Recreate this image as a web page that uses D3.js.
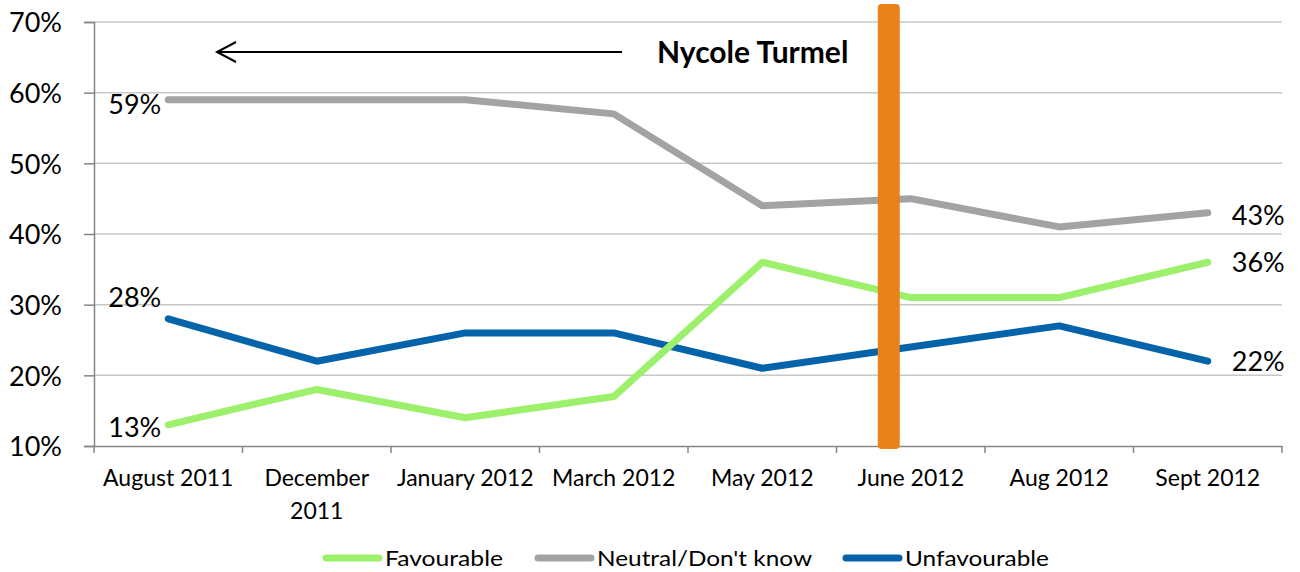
<!DOCTYPE html>
<html>
<head>
<meta charset="utf-8">
<script src="https://cdn.jsdelivr.net/npm/d3@7.8.5/dist/d3.min.js"></script>
<style>
  body { margin: 0; background: #fff; }
  svg { display: block; font-family: Lato, "Open Sans", sans-serif; }
</style>
</head>
<body>
<div id="chart"></div>
<script>
// Data
const categories = ["August 2011", "December 2011", "January 2012", "March 2012", "May 2012", "June 2012", "Aug 2012", "Sept 2012"];
const favourable = [13, 18, 14, 17, 36, 31, 31, 36];
const neutral = [59, 59, 59, 57, 44, 45, 41, 43];
const unfavourable = [28, 22, 26, 26, 21, 24, 27, 22];
const yTicks = [10, 20, 30, 40, 50, 60, 70];

const series = [
  { name: "Favourable", values: favourable, color: "#9cf06c" },
  { name: "Neutral/Don't know", values: neutral, color: "#a3a3a3" },
  { name: "Unfavourable", values: unfavourable, color: "#0563a9" }
];

const width = 1300, height = 572;
const margin = { top: 22, right: 18, bottom: 126, left: 94 };
const font = "Lato, 'Open Sans', sans-serif";

const svg = d3.select("#chart").append("svg")
  .attr("width", width)
  .attr("height", height);

const x = d3.scaleBand()
  .domain(categories)
  .range([margin.left, width - margin.right]);

const y = d3.scaleLinear()
  .domain([10, 70])
  .range([height - margin.bottom, margin.top]);

const cx = d => x(d) + x.bandwidth() / 2;

// Gridlines
svg.append("g")
  .selectAll("line")
  .data(yTicks.slice(1))
  .enter().append("line")
  .attr("x1", margin.left)
  .attr("x2", width - margin.right)
  .attr("y1", d => y(d))
  .attr("y2", d => y(d))
  .attr("stroke", "#c8c8c8")
  .attr("stroke-width", 1.5);

// Y axis
const yAxis = svg.append("g")
  .attr("transform", `translate(${margin.left},0)`)
  .call(d3.axisLeft(y).tickValues(yTicks).tickFormat(d => d + "%").tickSize(10).tickPadding(22))
  .attr("font-family", font);
yAxis.select(".domain").attr("stroke", "#868686").attr("stroke-width", 1.5);
yAxis.selectAll(".tick line").attr("stroke", "#868686").attr("stroke-width", 1.5);
yAxis.selectAll("text")
  .attr("fill", "#000")
  .style("font-size", "27px")
  .attr("dy", "0.36em");

// X axis
const xAxis = svg.append("g")
  .attr("transform", `translate(0,${y(10)})`)
  .call(d3.axisBottom(x).tickSize(0).tickPadding(24))
  .attr("font-family", font);
xAxis.select(".domain").attr("stroke", "#868686").attr("stroke-width", 1.5);
xAxis.selectAll(".tick text")
  .attr("fill", "#000")
  .style("font-size", "23px")
  .each(function(d) {
    const t = d3.select(this);
    if (d === "December 2011") {
      t.text(null);
      t.append("tspan").attr("x", 0).text("December");
      t.append("tspan").attr("x", 0).attr("dy", "1.42em").text("2011");
    }
  });
// band boundary ticks
xAxis.selectAll(".band-tick")
  .data(categories.concat(["end"]))
  .enter().append("line")
  .attr("x1", (d, i) => margin.left + i * x.bandwidth())
  .attr("x2", (d, i) => margin.left + i * x.bandwidth())
  .attr("y1", 0)
  .attr("y2", 7)
  .attr("stroke", "#868686")
  .attr("stroke-width", 1.5);

// Lines
const line = d3.line()
  .x((d, i) => cx(categories[i]))
  .y(d => y(d));

svg.append("g")
  .selectAll("path")
  .data([series[2], series[1], series[0]])
  .enter().append("path")
  .attr("d", d => line(d.values))
  .attr("fill", "none")
  .attr("stroke", d => d.color)
  .attr("stroke-width", 7)
  .attr("stroke-linecap", "round")
  .attr("stroke-linejoin", "round");

// End labels
const labels = svg.append("g").style("font-size", "27px").attr("fill", "#000");
const first = categories[0], last = categories[categories.length - 1];
const firstOffsets = { "Favourable": 2, "Neutral/Don't know": 5, "Unfavourable": -22 };
const lastOffsets = { "Favourable": 0, "Neutral/Don't know": 2, "Unfavourable": 0 };
series.forEach(s => {
  labels.append("text")
    .attr("x", cx(first) - 7)
    .attr("y", y(s.values[0]) + firstOffsets[s.name])
    .attr("dy", "0.36em")
    .attr("text-anchor", "end")
    .text(s.values[0] + "%");
  labels.append("text")
    .attr("x", cx(last) + 24)
    .attr("y", y(s.values[s.values.length - 1]) + lastOffsets[s.name])
    .attr("dy", "0.36em")
    .text(s.values[s.values.length - 1] + "%");
});

// Orange marker bar at June 2012
const juneX = cx("June 2012") - 22;
svg.append("rect")
  .attr("x", juneX - 11)
  .attr("y", 4)
  .attr("width", 22)
  .attr("height", y(10) - 4 + 3)
  .attr("rx", 4)
  .attr("fill", "#e9821a");

// Arrow and annotation
svg.append("line")
  .attr("x1", 622)
  .attr("x2", 217)
  .attr("y1", 52)
  .attr("y2", 52)
  .attr("stroke", "#000")
  .attr("stroke-width", 2);

svg.append("path")
  .attr("d", "M236,42L217,52L236,62")
  .attr("fill", "none")
  .attr("stroke", "#000")
  .attr("stroke-width", 2);

svg.append("text")
  .attr("x", 657)
  .attr("y", 52)
  .attr("dy", "0.36em")
  .style("font-size", "30px")
  .style("font-weight", "bold")
  .attr("fill", "#000")
  .text("Nycole Turmel");

// Legend
const legendItems = [
  { s: series[0], x: 326, w: 118 },
  { s: series[1], x: 538, w: 215 },
  { s: series[2], x: 846, w: 144 }
];
const legend = svg.append("g");
legendItems.forEach(item => {
  legend.append("line")
    .attr("x1", item.x)
    .attr("x2", item.x + 53)
    .attr("y1", 558)
    .attr("y2", 558)
    .attr("stroke", item.s.color)
    .attr("stroke-width", 7)
    .attr("stroke-linecap", "round");
  legend.append("text")
    .attr("x", item.x + 59)
    .attr("y", 558)
    .attr("dy", "0.36em")
    .style("font-size", "22px")
    .attr("textLength", item.w)
    .attr("lengthAdjust", "spacingAndGlyphs")
    .attr("fill", "#000")
    .text(item.s.name);
});
</script>
</body>
</html>
